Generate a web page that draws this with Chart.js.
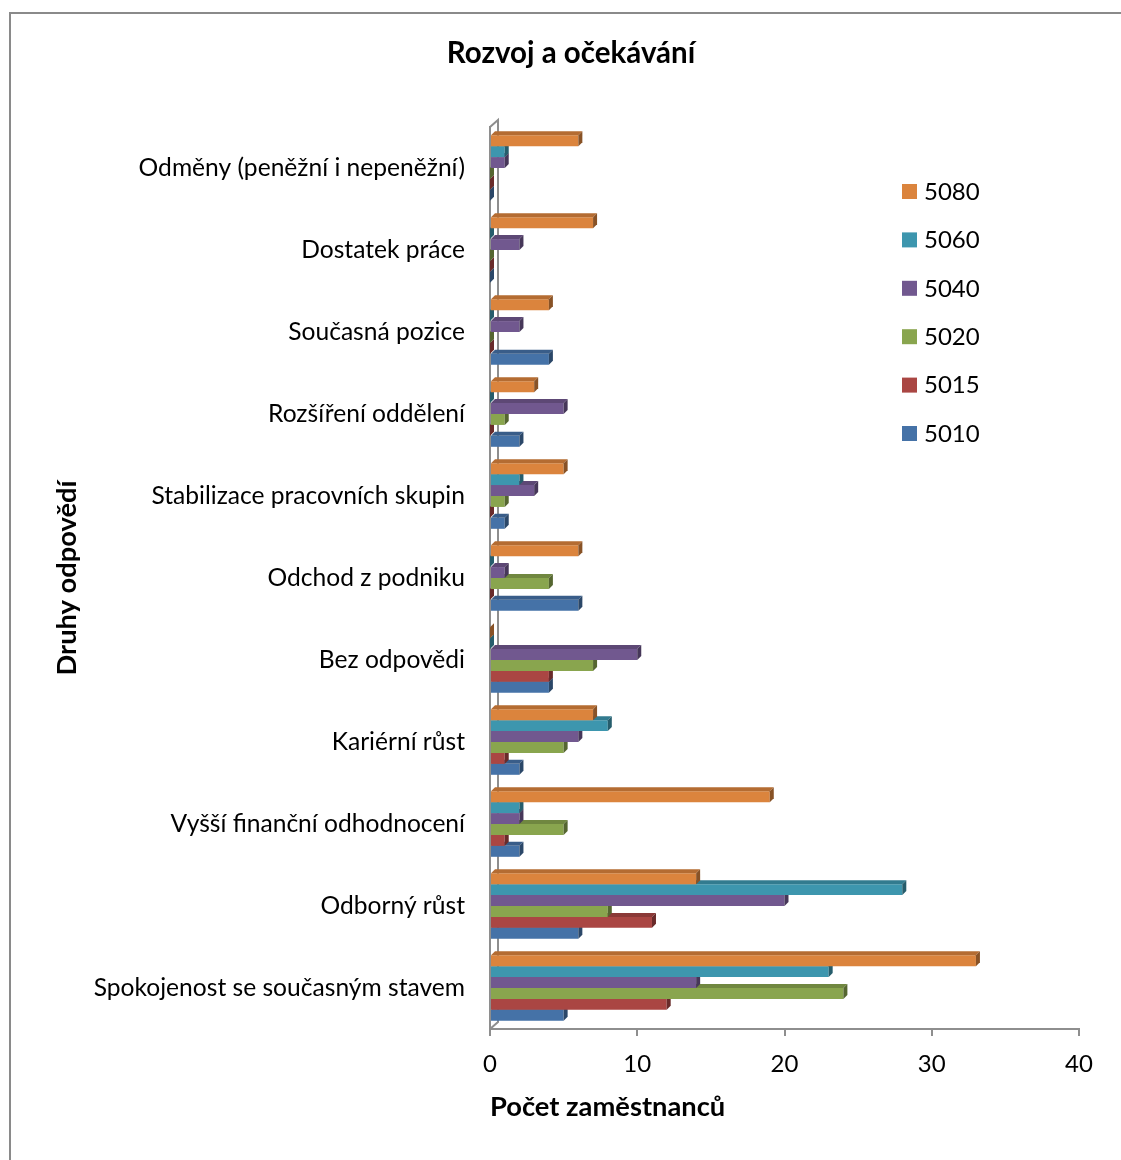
<!DOCTYPE html>
<html lang="cs">
<head>
<meta charset="utf-8">
<title>Rozvoj a očekávání</title>
<script src="https://cdn.jsdelivr.net/npm/chart.js@4.4.1/dist/chart.umd.min.js"></script>
<style>
  html, body { margin: 0; padding: 0; background: #fff; overflow: hidden; }
  #wrap { position: relative; width: 1121px; height: 1160px; overflow: hidden; }
  #frame { position: absolute; left: 9px; top: 12px; width: 1200px; height: 1300px;
           border: 2px solid #8a8a8a; box-sizing: border-box; pointer-events: none; }
  #box { position: absolute; left: 0; top: 0; width: 1142px; height: 1160px; }
</style>
</head>
<body>
<div id="wrap">
  <div id="box"><canvas id="chart"></canvas></div>
  <div id="frame"></div>
</div>
<script>
// Response categories, listed top to bottom
const categories = [
  'Odměny (peněžní i nepeněžní)',
  'Dostatek práce',
  'Současná pozice',
  'Rozšíření oddělení',
  'Stabilizace pracovních skupin',
  'Odchod z podniku',
  'Bez odpovědi',
  'Kariérní růst',
  'Vyšší finanční odhodnocení',
  'Odborný růst',
  'Spokojenost se současným stavem'
];

// Series names (department codes), top bar of each group first
const seriesNames = ['5080', '5060', '5040', '5020', '5015', '5010'];

// Number of employees per category for each department
const values5080 = [6, 7, 4, 3, 5, 6, 0, 7, 19, 14, 33];
const values5060 = [1, 0, 0, 0, 2, 0, 0, 8, 2, 28, 23];
const values5040 = [1, 2, 2, 5, 3, 1, 10, 6, 2, 20, 14];
const values5020 = [0, 0, 0, 1, 1, 4, 7, 5, 5, 8, 24];
const values5015 = [0, 0, 0, 0, 0, 0, 4, 1, 1, 11, 12];
const values5010 = [0, 0, 4, 2, 1, 6, 4, 2, 2, 6, 5];

const xTicks = [0, 10, 20, 30, 40];

const seriesValues = [values5080, values5060, values5040, values5020, values5015, values5010];
const seriesColors = ['#DB843D', '#3D96AE', '#71588F', '#89A54E', '#AA4643', '#4572A7'];

const FONT = 'Lato, "Open Sans", "DejaVu Sans", sans-serif';
const AXIS_GRAY = '#8e8e8e';
const DEPTH = 4;

function shade(hex, f) {
  const n = parseInt(hex.slice(1), 16);
  const r = Math.round(((n >> 16) & 255) * f);
  const g = Math.round(((n >> 8) & 255) * f);
  const b = Math.round((n & 255) * f);
  return `rgb(${r},${g},${b})`;
}

// Top and side faces give each bar a shallow 3-D look
const barDepth = {
  id: 'barDepth',
  afterDatasetDraw(chart, args) {
    const ctx = chart.ctx;
    const color = chart.data.datasets[args.index].backgroundColor;
    ctx.save();
    args.meta.data.forEach(el => {
      const { x, y, base, height } = el.getProps(['x', 'y', 'base', 'height'], true);
      const top = y - height / 2;
      const bottom = y + height / 2;
      ctx.fillStyle = shade(color, 0.82);
      ctx.beginPath();
      ctx.moveTo(base, top);
      ctx.lineTo(base + DEPTH, top - DEPTH);
      ctx.lineTo(x + DEPTH, top - DEPTH);
      ctx.lineTo(x, top);
      ctx.closePath();
      ctx.fill();
      ctx.fillStyle = shade(color, 0.62);
      ctx.beginPath();
      ctx.moveTo(x, top);
      ctx.lineTo(x + DEPTH, top - DEPTH);
      ctx.lineTo(x + DEPTH, bottom - DEPTH);
      ctx.lineTo(x, bottom);
      ctx.closePath();
      ctx.fill();
    });
    ctx.restore();
  }
};

// Back edge of the side wall behind the category axis
const sideWall = {
  id: 'sideWall',
  beforeDatasetsDraw(chart) {
    const { ctx, chartArea: a } = chart;
    const off = 8;
    ctx.save();
    ctx.strokeStyle = AXIS_GRAY;
    ctx.lineWidth = 2;
    ctx.beginPath();
    ctx.moveTo(a.left, a.top);
    ctx.lineTo(a.left + off, a.top - 7);
    ctx.lineTo(a.left + off, a.bottom - 7);
    ctx.lineTo(a.left, a.bottom);
    ctx.stroke();
    ctx.restore();
  }
};

// Legend drawn inside the plot, to the right of the bars
const sideLegend = {
  id: 'sideLegend',
  afterDraw(chart) {
    const ctx = chart.ctx;
    ctx.save();
    ctx.font = `24px ${FONT}`;
    ctx.textBaseline = 'middle';
    ctx.textAlign = 'left';
    chart.data.datasets.forEach((ds, i) => {
      const cy = 191 + i * 48.4;
      ctx.fillStyle = ds.backgroundColor;
      ctx.fillRect(902, cy - 7, 15, 15);
      ctx.fillStyle = '#000';
      ctx.fillText(ds.label, 924, cy + 1);
    });
    ctx.restore();
  }
};

const datasets = seriesNames.map((name, i) => ({
  label: name,
  data: seriesValues[i],
  backgroundColor: seriesColors[i],
  borderWidth: 0,
  categoryPercentage: 0.8,
  barPercentage: 1.0
}));

new Chart(document.getElementById('chart'), {
  type: 'bar',
  data: { labels: categories, datasets },
  options: {
    indexAxis: 'y',
    responsive: true,
    maintainAspectRatio: false,
    animation: false,
    layout: { padding: { left: 63, right: 63, top: 0, bottom: 0 } },
    plugins: {
      legend: { display: false },
      tooltip: { enabled: false },
      title: {
        display: true,
        text: 'Rozvoj a očekávání',
        color: '#000',
        font: { family: FONT, size: 29.5, weight: 'bold' },
        padding: { top: 35.3, bottom: 56.3 }
      }
    },
    scales: {
      x: {
        min: 0,
        max: 40,
        afterBuildTicks: s => { s.ticks = xTicks.map(v => ({ value: v })); },
        ticks: { color: '#000', font: { family: FONT, size: 24 }, padding: 14 },
        grid: { drawOnChartArea: false, drawTicks: true, tickLength: 7, color: AXIS_GRAY, lineWidth: 2 },
        border: { display: true, color: AXIS_GRAY, width: 2 },
        title: {
          display: true,
          text: 'Počet zaměstnanců',
          align: 'start',
          color: '#000',
          font: { family: FONT, size: 27.3, weight: 'bold' },
          padding: { top: 0, bottom: 36.6 }
        },
        afterFit: s => { s.height = 131; }
      },
      y: {
        ticks: { color: '#000', font: { family: FONT, size: 24.6 }, padding: 25, autoSkip: false },
        grid: { drawOnChartArea: false, drawTicks: false },
        border: { display: true, color: AXIS_GRAY, width: 2 },
        title: {
          display: true,
          text: 'Druhy odpovědí',
          color: '#000',
          font: { family: FONT, size: 27.3, weight: 'bold' },
          padding: { top: -12.4, bottom: 0 }
        },
        afterFit: s => { s.width = 427; }
      }
    }
  },
  plugins: [sideWall, barDepth, sideLegend]
});
</script>
</body>
</html>
